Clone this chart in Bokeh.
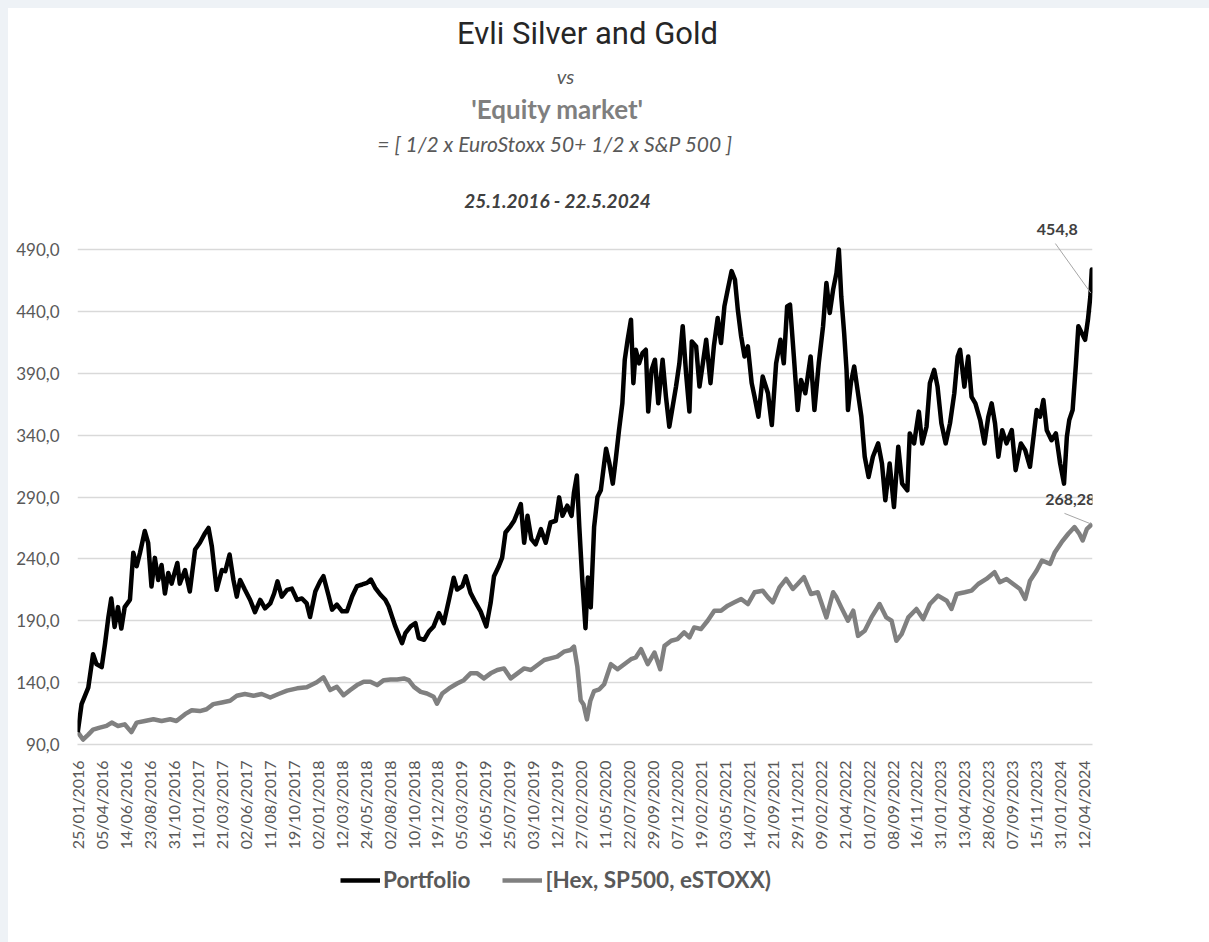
import math
from bokeh.plotting import figure
from bokeh.models import Range1d, FixedTicker, Label, Legend, LegendItem, Arrow
from bokeh.layouts import column
from bokeh.embed import file_html
from bokeh.resources import INLINE

# ---------------- data (trading-day index, value) ----------------
n_days = 2119
tick_step = 50
date_labels = [
    "25/01/2016", "05/04/2016", "14/06/2016", "23/08/2016", "31/10/2016",
    "11/01/2017", "21/03/2017", "02/06/2017", "11/08/2017", "19/10/2017",
    "02/01/2018", "12/03/2018", "24/05/2018", "02/08/2018", "10/10/2018", "19/12/2018",
    "05/03/2019", "16/05/2019", "25/07/2019", "03/10/2019", "12/12/2019",
    "27/02/2020", "11/05/2020", "22/07/2020", "29/09/2020", "07/12/2020",
    "19/02/2021", "03/05/2021", "14/07/2021", "21/09/2021", "29/11/2021",
    "09/02/2022", "21/04/2022", "01/07/2022", "08/09/2022", "16/11/2022",
    "31/01/2023", "13/04/2023", "28/06/2023", "07/09/2023", "15/11/2023",
    "31/01/2024", "12/04/2024",
]
y_ticks = [90, 140, 190, 240, 290, 340, 390, 440, 490]
y_tick_labels = ["90,0", "140,0", "190,0", "240,0", "290,0", "340,0", "390,0", "440,0", "490,0"]

portfolio_idx = [0, 8, 22, 32, 39, 50, 57, 64, 70, 77, 84, 91, 98, 109, 116, 123, 130, 140, 147, 154,
                 161, 168, 175, 182, 189, 196, 203, 208, 213, 224, 234, 245, 255, 266, 273, 280, 290, 301, 308, 317,
                 325, 332, 339, 349, 360, 370, 381, 391, 402, 410, 417, 426, 437, 447, 458, 468, 478, 485, 496, 506,
                 513, 524, 531, 541, 552, 562, 573, 583, 594, 604, 612, 621, 632, 642, 649, 656, 663, 670, 677, 684,
                 695, 705, 712, 723, 733, 743, 754, 764, 775, 785, 792, 803, 810, 820, 831, 841, 853, 862, 869, 879,
                 886, 893, 904, 911, 918, 925, 932, 939, 947, 956, 967, 977, 987, 998, 1005, 1012, 1022, 1031, 1036, 1042,
                 1047, 1053, 1060, 1065, 1071, 1078, 1085, 1092, 1099, 1103, 1110, 1117, 1123, 1130, 1137, 1142, 1148, 1155, 1160, 1165,
                 1172, 1179, 1186, 1191, 1198, 1205, 1212, 1221, 1228, 1235, 1242, 1249, 1256, 1263, 1270, 1277, 1282, 1291, 1298, 1305,
                 1312, 1321, 1328, 1336, 1343, 1350, 1357, 1365, 1372, 1378, 1385, 1392, 1399, 1407, 1413, 1421, 1430, 1441, 1449, 1458,
                 1467, 1474, 1481, 1487, 1495, 1503, 1510, 1519, 1530, 1538, 1547, 1556, 1563, 1570, 1577, 1584, 1589, 1594, 1600, 1605,
                 1608, 1614, 1621, 1628, 1636, 1643, 1651, 1660, 1671, 1679, 1686, 1695, 1704, 1713, 1721, 1732, 1737, 1746, 1756, 1763,
                 1772, 1779, 1788, 1795, 1803, 1812, 1821, 1830, 1837, 1842, 1851, 1859, 1866, 1874, 1884, 1893, 1901, 1908, 1915, 1922,
                 1930, 1939, 1950, 1958, 1969, 1978, 1988, 1997, 2002, 2009, 2016, 2023, 2033, 2042, 2051, 2059, 2065, 2070, 2077, 2084,
                 2089, 2096, 2103, 2109, 2114, 2117, 2118]
portfolio_val = [100, 122.6, 136, 163, 155, 152.5, 171.5, 193, 208, 185, 201, 183.7, 201, 207, 245, 234, 245, 262.5, 253, 217.7,
                 240.8, 223, 235, 212, 228.6, 220, 230, 236.7, 220, 231, 213.6, 247.6, 253, 261, 265, 250, 215, 231, 230, 243.5,
                 223, 209.5, 223, 215, 206.8, 197, 206.8, 200, 204, 212, 221.8, 209.5, 215, 216, 206.8, 208, 204, 193, 213.6, 221.8,
                 226, 209.8, 199, 203, 197.6, 197.6, 209.8, 218, 219.3, 220.6, 223.3, 216.6, 211, 207, 201.7, 193.5, 185.4, 178.6, 171.8, 180,
                 185.4, 188, 176, 174.6, 181.3, 185.4, 196.2, 188, 207, 224.7, 215.2, 218, 226, 212.5, 204.4, 197.6, 185.4, 204.4, 226, 234,
                 241, 261.3, 266.7, 270.8, 277.5, 284.3, 253, 274.8, 256, 251.8, 264, 253, 269.4, 270.8, 289.7, 274.8, 283, 274.8, 293.8, 307.3,
                 266.7, 225, 184, 225, 200.8, 265.7, 290, 295.4, 317, 329, 317, 300.8, 319.8, 344, 365.7, 400.9, 417, 433.3, 382, 409,
                 398, 406.3, 409, 359, 392.7, 400.9, 365.7, 400.9, 371, 346.8, 363, 379.2, 398, 428, 390, 359, 415.7, 411.7, 379.2, 398,
                 417, 382, 411.7, 434.6, 414.4, 444, 457.6, 472.5, 465.7, 441.4, 419.8, 403.6, 411.7, 382, 371, 354.9, 387.3, 373.8, 348.1, 398,
                 417, 398, 444, 445.4, 403.6, 360.3, 384.6, 373.8, 403.6, 360.3, 398, 428, 463, 438.7, 457.6, 471.1, 490, 452, 422.5, 392.7,
                 360.3, 382, 395.4, 376.5, 354.9, 322.5, 306.2, 322.5, 333.3, 317, 287.3, 317, 281.9, 330.6, 300.8, 295.4, 341.4, 333.3, 359, 333.3,
                 346.8, 382, 392.7, 379.2, 349.5, 333.3, 349.5, 373.8, 403.6, 409, 379.2, 403.6, 371, 365.7, 352.2, 333.3, 354.9, 365.7, 349.5, 322.5,
                 344, 333.3, 344, 311.7, 333.3, 327.9, 314.4, 344, 360.3, 354.9, 368.4, 344, 335.9, 341.4, 317, 300.8, 338.7, 352.2, 360.3, 398,
                 428, 422.5, 417, 433.3, 452, 473.8, 454.8]

benchmark_idx = [0, 11, 22, 32, 46, 60, 71, 84, 98, 112, 123, 140, 158, 175, 193, 206, 224, 238, 255, 269,
                 283, 301, 318, 332, 349, 367, 384, 402, 419, 437, 458, 478, 499, 513, 527, 541, 555, 569, 583, 597,
                 611, 625, 639, 653, 667, 681, 691, 702, 716, 729, 743, 750, 761, 775, 792, 806, 820, 834, 848, 862,
                 876, 890, 904, 918, 932, 946, 960, 974, 987, 1001, 1015, 1029, 1036, 1043, 1050, 1056, 1063, 1070, 1078, 1089,
                 1099, 1113, 1127, 1141, 1155, 1165, 1176, 1190, 1204, 1216, 1225, 1239, 1252, 1266, 1277, 1287, 1301, 1315, 1329, 1343,
                 1357, 1371, 1385, 1399, 1413, 1430, 1441, 1451, 1465, 1479, 1493, 1503, 1516, 1531, 1545, 1563, 1577, 1584, 1594, 1608,
                 1619, 1629, 1643, 1657, 1674, 1688, 1699, 1709, 1720, 1734, 1751, 1765, 1779, 1796, 1814, 1824, 1835, 1852, 1866, 1880,
                 1897, 1914, 1925, 1939, 1953, 1967, 1978, 1988, 2002, 2013, 2030, 2040, 2054, 2068, 2081, 2091, 2098, 2107, 2118]
benchmark_val = [100, 94, 98, 102, 103.6, 105, 107.7, 105, 106.3, 100, 107.7, 109, 110.4, 109, 110.4, 109, 114.5, 117.7, 117, 118.5,
                 122.6, 124, 125.3, 129.4, 130.8, 129.4, 130.8, 128, 130.8, 133.5, 135.4, 136.2, 140.3, 144.3, 134, 136.6, 129.8, 134, 138, 140.7,
                 140.7, 138, 142, 142.6, 142.6, 143.4, 142, 136.6, 132.5, 131.2, 128.5, 123, 131.2, 135.3, 139.3, 142, 147.5, 147.5, 143.4, 147.5,
                 150.2, 151.5, 143.4, 147.5, 151.5, 150.2, 154.2, 158.3, 159.6, 161, 165, 166.4, 169.1, 152.9, 125.8, 122.4, 110.3, 125.1, 133.2, 134.6,
                 138.7, 154.9, 150.8, 154.9, 158.9, 160.3, 167, 154.9, 164.3, 150.8, 169.7, 173.8, 175.1, 180.6, 176.5, 184.6, 183.3, 190, 198.1, 198.1,
                 202.2, 204.9, 207.6, 203.5, 213, 214.3, 208.9, 204.9, 217, 223.8, 215.7, 219.7, 225.2, 211.6, 213, 192.7, 213, 208.9, 200.8, 190,
                 198.1, 177.8, 181.9, 192.7, 203.5, 192.7, 190, 173.8, 179.2, 192.7, 199.5, 191.4, 203.5, 210.3, 206.2, 199.5, 211.6, 213, 214.3, 219.7,
                 223.8, 229.2, 221.1, 223.8, 219.7, 215.7, 207.6, 222.4, 230.6, 238.7, 236, 245.4, 253.5, 260.3, 265.7, 260.3, 254.9, 264.3, 268.28]

# ---------------- styling ----------------
FONT = "Lato"
TXT = "#595959"
PORT_STYLE = dict(line_color="#000000", line_width=4.5, line_join="round")
BENCH_STYLE = dict(line_color="#808080", line_width=4.5, line_join="round")

# frame spans the chart body plus the heading space above it (gridlines only at the y ticks)
y_min, y_max = 90, 490
px_per_unit = 495 / (y_max - y_min)
head_px = 241
p = figure(frame_width=1015, frame_height=495 + head_px,
           min_border_left=69, min_border_right=117, min_border_top=0, min_border_bottom=116,
           x_range=Range1d(-0.5, n_days - 0.5), y_range=Range1d(y_min, y_max + head_px / px_per_unit),
           output_backend="svg", toolbar_location=None,
           background_fill_color="white", border_fill_color="white")
p.title.visible = False
p.outline_line_color = None
p.margin = (8, 0, 0, 8)

r_bench = p.line(benchmark_idx, benchmark_val, **BENCH_STYLE)
r_port = p.line(portfolio_idx, portfolio_val, **PORT_STYLE)

# axes
p.xgrid.grid_line_color = None
p.ygrid.grid_line_color = "#d9d9d9"
p.ygrid.grid_line_width = 1.3
p.yaxis.ticker = FixedTicker(ticks=y_ticks)
p.yaxis.major_label_overrides = {t: l for t, l in zip(y_ticks, y_tick_labels)}
p.yaxis.axis_line_color = None
p.yaxis.major_tick_line_color = None
p.yaxis.minor_tick_line_color = None
p.yaxis.major_label_standoff = 12
p.yaxis.major_label_text_font = FONT
p.yaxis.major_label_text_font_size = "17px"
p.yaxis.major_label_text_color = TXT

x_ticks = [i * tick_step for i in range(len(date_labels))]
p.xaxis.ticker = FixedTicker(ticks=x_ticks)
p.xaxis.major_label_overrides = {t: l for t, l in zip(x_ticks, date_labels)}
p.xaxis.major_label_orientation = math.pi / 2
p.xaxis.axis_line_color = "#d9d9d9"
p.xaxis.axis_line_width = 1.3
p.xaxis.major_tick_line_color = None
p.xaxis.minor_tick_line_color = None
p.xaxis.major_label_standoff = 10
p.xaxis.major_label_text_font = FONT
p.xaxis.major_label_text_font_size = "16px"
p.xaxis.major_label_text_color = TXT

# headings (screen units, relative to the frame's bottom-left)
def add_text(txt, sx, sy, size, color, style="normal", font=FONT):
    p.add_layout(Label(x=sx, y=sy, x_units="screen", y_units="screen", text=txt,
                       text_align="center", text_baseline="middle", text_font=font,
                       text_font_size=size, text_color=color, text_font_style=style))

add_text("Evli Silver and Gold", 510, 711, "31px", "#262626", font="Roboto")
add_text("vs", 488, 669, "20px", TXT, "italic")
add_text("'Equity market'", 480, 636, "26px", "#7f7f7f", "bold")
add_text("= [ 1/2 x EuroStoxx 50+ 1/2 x S&P 500  ]", 480, 601, "21px", TXT, "italic")
add_text("25.1.2016 - 22.5.2024", 480, 544, "19px", "#404040", "bold italic")

# end-value labels with leader lines
last_p = portfolio_val[-1]
last_b = benchmark_val[-1]
p.add_layout(Arrow(x_start=portfolio_idx[-1] - 77, y_start=last_p + 40, x_end=portfolio_idx[-1] - 3, y_end=last_p,
                   end=None, line_color="#a6a6a6", line_width=1))
p.add_layout(Arrow(x_start=benchmark_idx[-1] - 58, y_start=last_b + 8.5, x_end=benchmark_idx[-1] - 3, y_end=last_b,
                   end=None, line_color="#a6a6a6", line_width=1))
p.add_layout(Label(x=portfolio_idx[-1], y=last_p, x_offset=-35, y_offset=64,
                   text=f"{last_p:.1f}".replace(".", ","), text_align="center", text_baseline="middle",
                   text_font=FONT, text_font_style="bold", text_font_size="16px", text_color="#404040"))
p.add_layout(Label(x=benchmark_idx[-1], y=last_b, x_offset=-22, y_offset=24,
                   text=f"{last_b:.2f}".replace(".", ","), text_align="center", text_baseline="middle",
                   text_font=FONT, text_font_style="bold", text_font_size="16px", text_color="#404040"))

# legend strip below the chart: same series and styles, ranges chosen so only the legend shows
leg = figure(width=1201, height=82, min_border=0, x_axis_location=None, y_axis_location=None,
             x_range=Range1d(-3, -2), y_range=Range1d(0, 1),
             output_backend="svg", toolbar_location=None,
             background_fill_color="white", border_fill_color="white")
leg.title.visible = False
leg.outline_line_color = None
leg.grid.visible = False
leg.margin = (0, 0, 0, 8)
lp = leg.line(portfolio_idx, portfolio_val, **PORT_STYLE)
lb = leg.line(benchmark_idx, benchmark_val, **BENCH_STYLE)
legend = Legend(items=[LegendItem(label="Portfolio", renderers=[lp]),
                       LegendItem(label="[Hex, SP500, eSTOXX)", renderers=[lb])],
                location=(263, 49), orientation="horizontal",
                border_line_color=None, background_fill_alpha=0, padding=0, margin=0,
                spacing=32, glyph_width=40, glyph_height=20, label_height=20, label_standoff=3,
                label_text_font=FONT, label_text_font_style="bold", label_text_font_size="22.5px",
                label_text_color=TXT)
leg.add_layout(legend)

layout = column(p, leg, width=1209, height=942, spacing=0,
                styles={"background-color": "#ffffff", "box-shadow": "inset 8px 8px 0 #eef2f6"})

open("out.html", "w").write(file_html(layout, INLINE))
